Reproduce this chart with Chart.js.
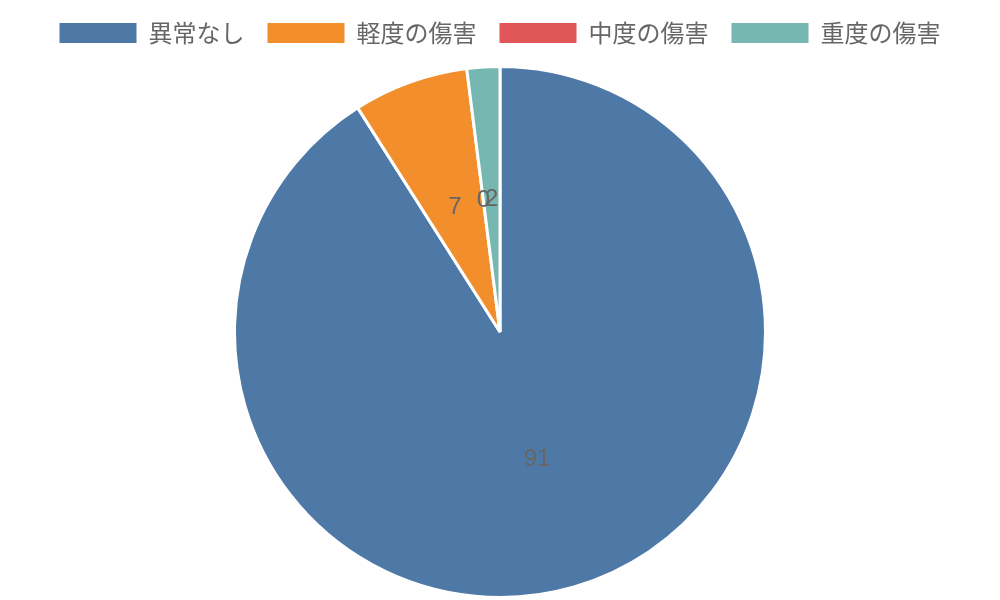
<!DOCTYPE html>
<html>
<head>
<meta charset="utf-8">
<script src="https://cdn.jsdelivr.net/npm/chart.js@4"></script>
<style>
  html, body { margin: 0; padding: 0; background: #fff; }
  #wrap { width: 1000px; height: 600px; }
</style>
</head>
<body>
<div id="wrap"><canvas id="chart"></canvas></div>
<script>
// Chart data
const categories = ['異常なし', '軽度の傷害', '中度の傷害', '重度の傷害'];
const counts = [91, 7, 0, 2];
const sliceColors = ['#4e79a7', '#f28e2b', '#e15759', '#76b7b2'];

// Draws the value of each slice at its middle
const sliceLabels = {
    id: 'sliceLabels',
    afterDatasetsDraw(chart) {
        const ctx = chart.ctx;
        const meta = chart.getDatasetMeta(0);
        ctx.save();
        ctx.font = '24px "Liberation Sans", Arial, sans-serif';
        ctx.fillStyle = '#666';
        ctx.textAlign = 'center';
        ctx.textBaseline = 'middle';
        meta.data.forEach(function(arc, i) {
            const pos = arc.tooltipPosition();
            ctx.fillText(String(counts[i]), pos.x, pos.y);
        });
        ctx.restore();
    }
};

// Leaves some more room under the legend
const legendSpacer = {
    id: 'legendSpacer',
    beforeInit(chart) {
        const fit = chart.legend.fit;
        chart.legend.fit = function() {
            fit.bind(chart.legend)();
            this.height += 10;
        };
    }
};

Chart.defaults.font.family = '"Noto Sans CJK JP", "Liberation Sans", sans-serif';

const pieLabels = Chart.controllers.pie.overrides.plugins.legend.labels.generateLabels;

new Chart(document.getElementById('chart'), {
    type: 'pie',
    data: {
        labels: categories,
        datasets: [{
            data: counts,
            backgroundColor: sliceColors,
            borderColor: '#fff',
            borderWidth: 3
        }]
    },
    options: {
        responsive: true,
        maintainAspectRatio: false,
        animation: false,
        layout: { padding: { top: -2, right: 4, bottom: 1, left: 4 } },
        plugins: {
            legend: {
                position: 'top',
                labels: {
                    boxWidth: 77,
                    boxHeight: 20,
                    padding: 23,
                    color: '#666',
                    font: { size: 24 },
                    // no white outline on the legend boxes
                    generateLabels: function(chart) {
                        return pieLabels(chart).map(function(item) {
                            item.lineWidth = 0;
                            return item;
                        });
                    }
                }
            },
            tooltip: { enabled: false }
        }
    },
    plugins: [sliceLabels, legendSpacer]
});
</script>
</body>
</html>
